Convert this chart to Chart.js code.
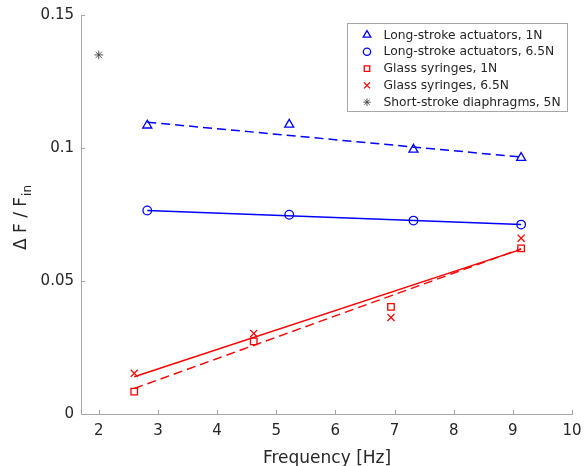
<!DOCTYPE html>
<html>
<head>
<meta charset="utf-8">
<script src="https://cdn.jsdelivr.net/npm/chart.js@4.4.1/dist/chart.umd.min.js"></script>
<style>
  html, body { margin: 0; padding: 0; background: #fff; }
</style>
</head>
<body>
<canvas id="lossChart" width="585" height="466"></canvas>
<script>
// measured points
var freqLong = [2.82, 5.22, 7.32, 9.14];
var longStroke1N = [0.1085, 0.1088, 0.0994, 0.0963];
var longStroke65N = [0.0765, 0.0749, 0.0727, 0.0712];

var freqGlass = [2.6, 4.62, 6.94, 9.14];
var glass1N = [0.0084, 0.0273, 0.0403, 0.0623];
var glass65N = [0.0153, 0.0303, 0.0363, 0.0661];

var freqShort = [2];
var shortStroke5N = [0.135];

// linear fits, end points only
var fitFreqLong = [2.82, 9.14];
var fitLong1N = [0.1097, 0.0966];
var fitLong65N = [0.0765, 0.0712];
var fitFreqGlass = [2.6, 9.14];
var fitGlass1N = [0.0096, 0.0621];
var fitGlass65N = [0.0140, 0.0619];

var xTicks = [2, 3, 4, 5, 6, 7, 8, 9, 10];
var yTickLabels = ['0', '0.05', '0.1', '0.15'];

var axisGray = '#a6a6a6';
var textGray = '#262626';

function toPoints(xs, ys) {
  var pts = [];
  xs.forEach(function (x, i) { pts.push({x: x, y: ys[i]}); });
  return pts;
}

function markerSet(label, xs, ys, color, style, radius, lw) {
  return {
    label: label,
    data: toPoints(xs, ys),
    showLine: false,
    pointStyle: style,
    pointRadius: radius,
    pointHoverRadius: radius,
    pointBorderWidth: lw || 1.3,
    borderColor: color,
    backgroundColor: 'rgba(0,0,0,0)',
    pointBackgroundColor: 'rgba(0,0,0,0)'
  };
}

function fitLine(xs, ys, color, dash) {
  return {
    label: '',
    isFit: true,
    data: toPoints(xs, ys),
    showLine: true,
    pointRadius: 0,
    borderColor: color,
    borderWidth: 1.5,
    borderDash: dash,
    fill: false
  };
}

// inward tick marks like the usual matlab axes
var innerTicks = {
  id: 'innerTicks',
  afterDraw: function (chart) {
    var ctx = chart.ctx;
    var area = chart.chartArea;
    var xs = chart.scales.x, ys = chart.scales.y;
    ctx.save();
    ctx.strokeStyle = axisGray;
    ctx.lineWidth = 1;
    ctx.beginPath();
    xs.ticks.forEach(function (t) {
      var px = Math.round(xs.getPixelForValue(t.value)) + 0.5;
      ctx.moveTo(px, area.bottom);
      ctx.lineTo(px, area.bottom - 4);
    });
    ys.ticks.forEach(function (t) {
      var py = Math.round(ys.getPixelForValue(t.value)) + 0.5;
      ctx.moveTo(area.left, py);
      ctx.lineTo(area.left + 4, py);
    });
    ctx.stroke();
    ctx.restore();
  }
};

// axis titles (y title needs a subscript)
var axisTitles = {
  id: 'axisTitles',
  afterDraw: function (chart) {
    var ctx = chart.ctx;
    var area = chart.chartArea;
    ctx.save();
    ctx.fillStyle = textGray;
    ctx.font = '17px "DejaVu Sans"';
    ctx.textAlign = 'center';
    ctx.textBaseline = 'middle';
    ctx.fillText('Frequency [Hz]', (area.left + area.right) / 2 + 0.5, 459);

    ctx.translate(26, 250);
    ctx.rotate(-Math.PI / 2);
    ctx.textAlign = 'left';
    ctx.textBaseline = 'alphabetic';
    var main = '\u0394 F / F';
    ctx.fillText(main, 0, 0);
    var w = ctx.measureText(main).width;
    ctx.font = '12px "DejaVu Sans"';
    ctx.fillText('in', w + 1, 5);
    ctx.restore();
  }
};

// boxed legend in the upper right corner
var boxLegend = {
  id: 'boxLegend',
  afterDraw: function (chart) {
    var ctx = chart.ctx;
    var area = chart.chartArea;
    var sets = chart.data.datasets.filter(function (d) { return !d.isFit; });
    var right = area.right - 5, top = area.top + 7.5;
    var width = 220, rowH = 16.8;
    var height = sets.length * rowH + 4;
    var left = right - width;
    ctx.save();
    ctx.fillStyle = '#fff';
    ctx.fillRect(left, top, width, height);
    ctx.strokeStyle = axisGray;
    ctx.lineWidth = 1;
    ctx.strokeRect(Math.round(left) + 0.5, Math.round(top) + 0.5, width, height);
    ctx.font = '12.3px "DejaVu Sans"';
    ctx.textBaseline = 'middle';
    ctx.textAlign = 'left';
    sets.forEach(function (d, i) {
      var cy = top + 12.5 + i * rowH;
      ctx.strokeStyle = d.borderColor;
      ctx.fillStyle = 'rgba(0,0,0,0)';
      ctx.lineWidth = d.pointBorderWidth;
      Chart.helpers.drawPoint(ctx, {
        pointStyle: d.pointStyle,
        radius: d.pointRadius * 0.85,
        borderWidth: d.pointBorderWidth
      }, left + 20, cy);
      ctx.fillStyle = textGray;
      ctx.fillText(d.label, left + 36.5, cy + 0.5);
    });
    ctx.restore();
  }
};

var ctx = document.getElementById('lossChart').getContext('2d');
var lossChart = new Chart(ctx, {
  type: 'scatter',
  data: {
    datasets: [
      markerSet('Long-stroke actuators, 1N', freqLong, longStroke1N, '#0000ff', 'triangle', 5.2),
      markerSet('Long-stroke actuators, 6.5N', freqLong, longStroke65N, '#0000ff', 'circle', 4.3),
      markerSet('Glass syringes, 1N', freqGlass, glass1N, '#ff0000', 'rect', 4.6),
      markerSet('Glass syringes, 6.5N', freqGlass, glass65N, '#ff0000', 'crossRot', 5),
      markerSet('Short-stroke diaphragms, 5N', freqShort, shortStroke5N, '#444444', 'star', 4.4, 0.9),
      fitLine(fitFreqLong, fitLong1N, '#0000ff', [9, 5]),
      fitLine(fitFreqLong, fitLong65N, '#0000ff', []),
      fitLine(fitFreqGlass, fitGlass1N, '#ff0000', [9, 5]),
      fitLine(fitFreqGlass, fitGlass65N, '#ff0000', [])
    ]
  },
  options: {
    responsive: false,
    animation: false,
    layout: { padding: { top: 15, right: 13, left: 0, bottom: 0 } },
    plugins: {
      legend: { display: false },
      tooltip: { enabled: false }
    },
    scales: {
      x: {
        type: 'linear',
        min: 1.7,
        max: 10,
        afterFit: function (scale) {
          scale.height = 52;
          scale.paddingLeft = 0;
          scale.paddingRight = 0;
        },
        afterBuildTicks: function (scale) {
          scale.ticks = xTicks.map(function (v) { return {value: v}; });
        },
        ticks: {
          color: textGray,
          font: { family: 'DejaVu Sans', size: 15 },
          padding: 8,
          maxRotation: 0,
          callback: function (v) { return String(v); }
        },
        grid: { drawOnChartArea: false, drawTicks: false, color: axisGray },
        border: { color: axisGray, width: 1 }
      },
      y: {
        type: 'linear',
        min: 0,
        max: 0.15,
        afterFit: function (scale) {
          scale.width = 81;
          scale.paddingTop = 0;
          scale.paddingBottom = 0;
        },
        afterBuildTicks: function (scale) {
          scale.ticks = yTickLabels.map(function (s) { return {value: parseFloat(s)}; });
        },
        ticks: {
          color: textGray,
          font: { family: 'DejaVu Sans', size: 15 },
          padding: 7,
          callback: function (v, i) { return yTickLabels[i]; }
        },
        grid: { drawOnChartArea: false, drawTicks: false, color: axisGray },
        border: { color: axisGray, width: 1 }
      }
    }
  },
  plugins: [innerTicks, axisTitles, boxLegend]
});
</script>
</body>
</html>
